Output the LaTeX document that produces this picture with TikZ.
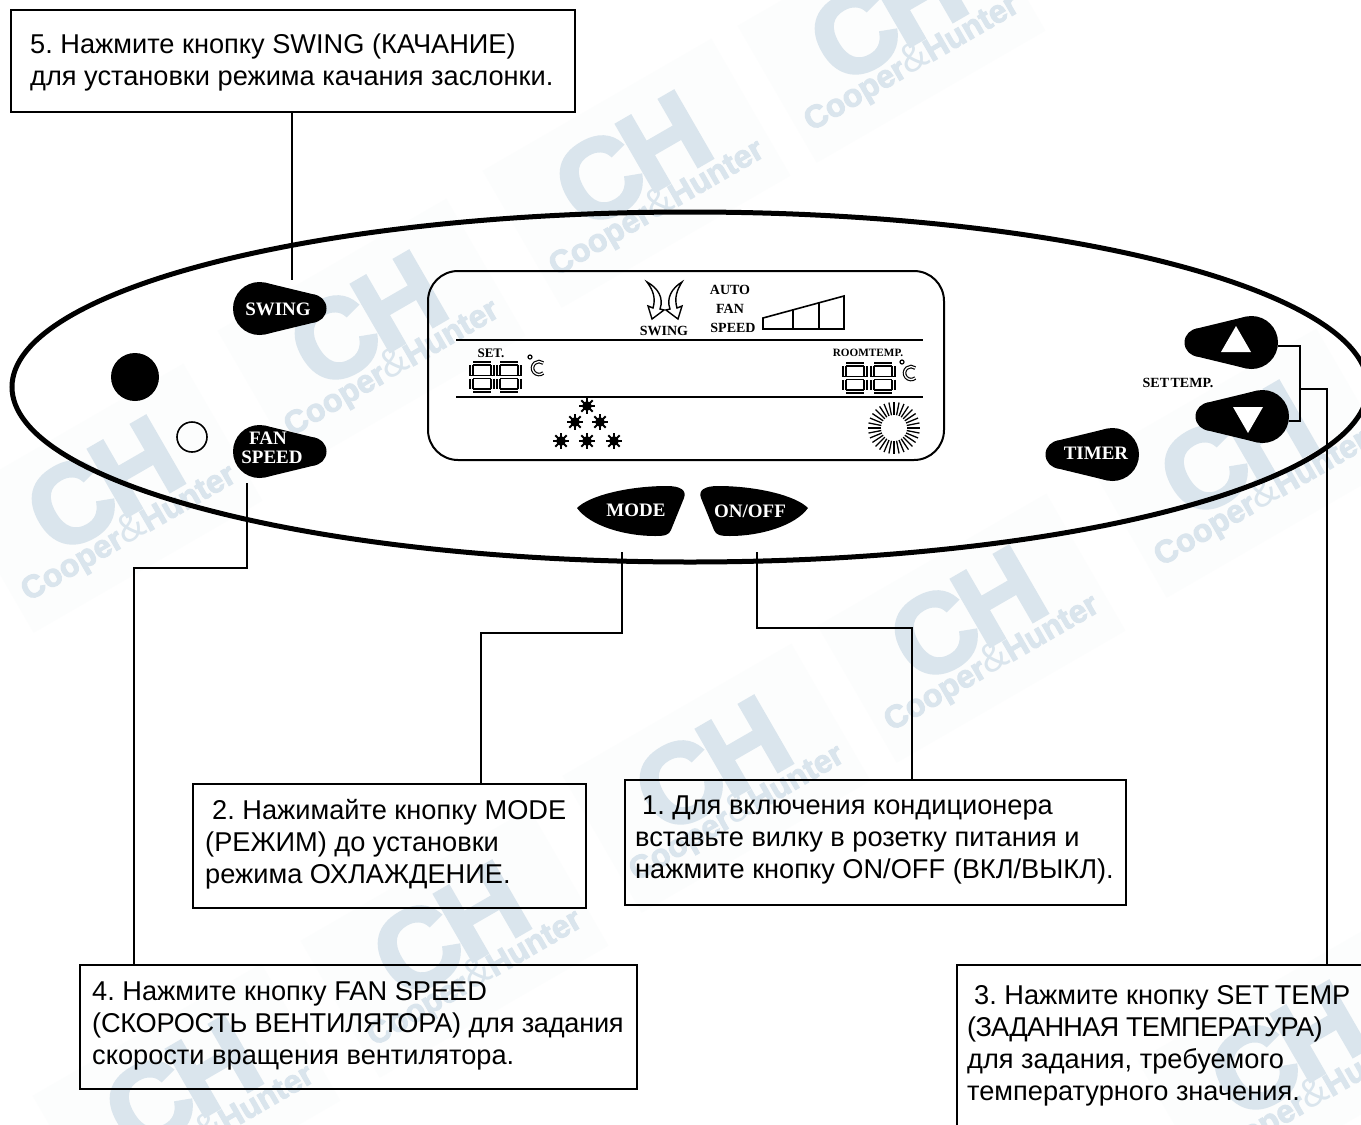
\documentclass[tikz,border=0pt]{standalone}
\usepackage{fontspec}
\usetikzlibrary{calc,shapes.geometric}
\setmainfont{Liberation Sans}
\newfontfamily\btnfont{Liberation Serif}[BoldFont={Liberation Serif Bold}]
\newfontfamily\wmfont{Liberation Sans}[BoldFeatures={FakeBold=3}]
\definecolor{wmblue}{HTML}{DAE5ED}
\definecolor{wmpale}{HTML}{FCFDFD}
\frenchspacing
\newcommand{\wmark}[2]{%
  \fill[wmpale,rotate around={30:(#1,#2)}] ($(#1,#2)+(-132,-118)$) rectangle ($(#1,#2)+(132,40)$);
  \node[wmch,rotate=30] at ($(#1,#2)+(-24,-47)$) {C\kern-6pt H};
  \node[wmtext,rotate=30] at (#1,#2) {Cooper{\fontsize{40}{40}\selectfont\mdseries\&}Hunter};
}
\newcommand{\dropshape}[3]{%
  \begin{scope}[shift={(#1,#2)},xscale=#3]
    \fill[black] (0,0) circle[radius=26.5];
    \fill[black] (53,0) circle[radius=14];
    \fill[black] (5.9,-25.8) -- (56.2,-13.6) -- (56.2,13.6) -- (5.9,25.8) -- cycle;
  \end{scope}
}
\newcommand{\sevenseg}[2]{%
  \begin{scope}[shift={(#1,#2)}]
    \foreach \a/\b/\c/\d in {3/1.5/21/1.5, 3/15/21/15, 3/28.5/21/28.5, 1.5/3/1.5/13.5, 22.5/3/22.5/13.5, 1.5/16.5/1.5/27, 22.5/16.5/22.5/27}{
      \draw[line width=4.4,black] (\a,\b) -- (\c,\d);
      \draw[line width=1.5,white,shorten <=.4,shorten >=.4] (\a,\b) -- (\c,\d);
    }
  \end{scope}
}
\newcommand{\celsius}[2]{%
  \draw[line width=1.2] (#1-9,#2-11) circle[radius=2];
  \draw[line width=3.6] (#1+4.2,#2+5) arc[start angle=50,end angle=310,radius=6.5];
  \draw[line width=1.3,white] (#1+4.2,#2+5) arc[start angle=50,end angle=310,radius=6.5];
}
\newcommand{\snow}[2]{%
  \begin{scope}[shift={(#1,#2)}]
    \fill (0,0) circle[radius=4.8];
    \foreach \k in {0,45,...,315}{\draw[line width=2] (0,0) -- (\k:8);}
  \end{scope}
}
\tikzset{
  x=1pt,y=-1pt,
  wmch/.style={text=wmblue,font=\wmfont\fontsize{112}{112}\selectfont\bfseries,inner sep=0pt},
  wmtext/.style={text=wmblue,font=\wmfont\fontsize{32}{32}\selectfont\bfseries,inner sep=0pt},
  calloutbox/.style={draw=black,line width=2.6pt,fill=none,inner sep=0pt},
  calloutlabel/.style={anchor=north west,align=left,inner sep=0pt,font=\fontsize{27.2}{32}\selectfont},
  btnlabel/.style={text=white,inner sep=0pt,font=\btnfont\fontsize{19}{20}\selectfont\bfseries,align=center},
  lcdlabel/.style={text=black,inner sep=0pt,font=\btnfont\fontsize{14}{15}\selectfont\bfseries},
  wire/.style={line width=2.4pt,line join=miter},
}
\begin{document}
\begin{tikzpicture}
\useasboundingbox (0,0) rectangle (1361,1125);
\fill[white] (0,0) rectangle (1361,1125);
% watermarks
\wmark{656}{207}\wmark{911}{62}\wmark{391}{367}\wmark{128}{532}\wmark{1261}{497}
\wmark{991}{662}\wmark{736}{812}\wmark{474}{977}\wmark{206}{1132}\wmark{1311}{1097}
% panel
\node[draw=black,line width=5pt,ellipse,minimum width=1356pt,minimum height=350pt,inner sep=0pt] (panel) at (690,387) {};
% lcd
\node[draw=black,line width=2pt,rounded corners=30pt,minimum width=516pt,minimum height=189pt,inner sep=0pt] (lcd) at (686,365.5) {};
\draw[line width=2pt] (456,340) -- (923,340);
\draw[line width=2.4pt] (456,397) -- (923,397);
% swing icon
\draw[line width=1.4pt,fill=white,line join=miter] (647,282) .. controls (658,288) and (664,298) .. (660,309) -- (664,310) -- (652,319) -- (648,306) -- (653,308) .. controls (656,298) and (653,290) .. cycle;
\draw[line width=1.4pt,fill=white,line join=miter] (682,282) .. controls (672,288) and (666,298) .. (670,309) -- (666,310) -- (678,319) -- (682,306) -- (677,308) .. controls (674,298) and (677,290) .. cycle;
\node[lcdlabel] (lswing) at (664,331) {SWING};
\node[lcdlabel] (lauto) at (730,290) {AUTO};
\node[lcdlabel] (lfan) at (730,309) {FAN};
\node[lcdlabel] (lspeed) at (733,328) {SPEED};
\draw[line width=1.6pt,line join=miter] (763,318) -- (844,296) -- (844,329) -- (763,329) -- cycle;
\draw[line width=1.6pt] (793,310) -- (793,329) (819,303) -- (819,329);
\node[lcdlabel,font=\btnfont\fontsize{13}{14}\selectfont\bfseries] (lset) at (491,353) {SET.};
\node[lcdlabel,font=\btnfont\fontsize{11.2}{14}\selectfont\bfseries] (lroom) at (868,353) {ROOMTEMP.};
\sevenseg{470}{362}\sevenseg{497}{362}
\sevenseg{843}{363}\sevenseg{871}{363}
\celsius{539}{368}\celsius{911}{373}
\snow{587}{406}\snow{575}{422}\snow{600}{422}\snow{561}{441}\snow{587}{441}\snow{614}{441}
\foreach \k in {0,11.25,...,348.75}{\draw[line width=1.3pt] (894,428) ++(\k:13) -- ++(\k:13);}
% leds
\fill (135,377) circle[radius=24];
\draw[line width=1.6pt] (192,437) circle[radius=15];
% teardrop buttons
\dropshape{259.5}{308.5}{1}
\dropshape{259.5}{451.5}{1}
\dropshape{1251.5}{342.5}{-1}
\dropshape{1262.5}{416.5}{-1}
\dropshape{1112.5}{454.5}{-1}
\fill[white] (1221,352) -- (1251,352) -- (1236,326) -- cycle;
\fill[white] (1233,407) -- (1263,407) -- (1248,433) -- cycle;
\node[btnlabel] (bswing) at (278,309) {SWING};
\node[btnlabel] (bfan) at (272,448) {\hspace*{-8pt}FAN\\[-1pt]SPEED};
\node[btnlabel] (btimer) at (1096,453) {TIMER};
\node[lcdlabel] (lsettemp) at (1178,383) {SET\hspace{-2pt} TEMP.};
% mode and on/off
\fill (577,508) .. controls (590,495) and (630,486) .. (667,486) .. controls (680,486) and (687,490) .. (684,498) -- (671,530) .. controls (669,535) and (665,536) .. (655,536) .. controls (625,536) and (590,526) .. cycle;
\fill (808,508) .. controls (795,495) and (755,486) .. (718,486) .. controls (705,486) and (698,490) .. (701,498) -- (714,530) .. controls (716,535) and (720,536) .. (730,536) .. controls (760,536) and (795,526) .. cycle;
\node[btnlabel] (bmode) at (636,510) {MODE};
\node[btnlabel] (bonoff) at (750,511) {ON/OFF};
% anchors on buttons
\coordinate (aswing) at (292,280);
\coordinate (afan) at (247,483);
\coordinate (amode) at (622,552);
\coordinate (aonoff) at (757,552);
\coordinate (aup) at (1278,346);
\coordinate (adown) at (1289,421);
\coordinate (jn) at (1300,389);
% boxes
\node[calloutbox,minimum width=564pt,minimum height=102pt] (b5) at (293,61) {};
\node[calloutbox,minimum width=393pt,minimum height=124pt] (b2) at (389.5,846) {};
\node[calloutbox,minimum width=501pt,minimum height=125pt] (b1) at (875.5,842.5) {};
\node[calloutbox,minimum width=557pt,minimum height=124pt] (b4) at (358.5,1027) {};
\node[calloutbox,minimum width=420pt,minimum height=180pt] (b3) at (1167,1055) {};
% box text
\node[calloutlabel] (t5) at (30,33.5) {5. Нажмите кнопку SWING (КАЧАНИЕ)\\для установки режима качания заслонки.};
\node[calloutlabel] (t2) at (205,799.5) {\hspace*{7pt}2. Нажимайте кнопку MODE\\(РЕЖИМ) до установки\\режима ОХЛАЖДЕНИЕ.};
\node[calloutlabel] (t1) at (635,796) {\hspace*{7pt}1. Для включения кондиционера\\вставьте вилку в розетку питания и\\нажмите кнопку ON/OFF (ВКЛ/ВЫКЛ).};
\node[calloutlabel] (t4) at (92,981) {4. Нажмите кнопку FAN SPEED\\{\addfontfeature{LetterSpace=-1}(СКОРОСТЬ ВЕНТИЛЯТОРА) для задания}\\скорости вращения вентилятора.};
\node[calloutlabel] (t3) at (967,985) {\hspace*{7pt}3. Нажмите кнопку SET\hspace{-2pt} TEMP\\{\addfontfeature{LetterSpace=-2.8}(ЗАДАННАЯ ТЕМПЕРАТУРА)}\\для задания, требуемого\\температурного значения.};
% connectors
\draw[wire] (b5.south -| aswing) -- (aswing);
\draw[wire] (afan) -- (247,568) -- (134,568) -- (134,965 |- b4.north);
\draw[wire] (amode) -- (622,633) -- (481,633) -- (481,784 |- b2.north);
\draw[wire] (aonoff) -- (757,628) -- (912,628) -- (912,780 |- b1.north);
\draw[wire] (aup) -- (1300,346) -- (1300,421) -- (adown);
\draw[wire] (jn) -- (1327,389) -- (1327,965 |- b3.north);
\end{tikzpicture}
\end{document}
